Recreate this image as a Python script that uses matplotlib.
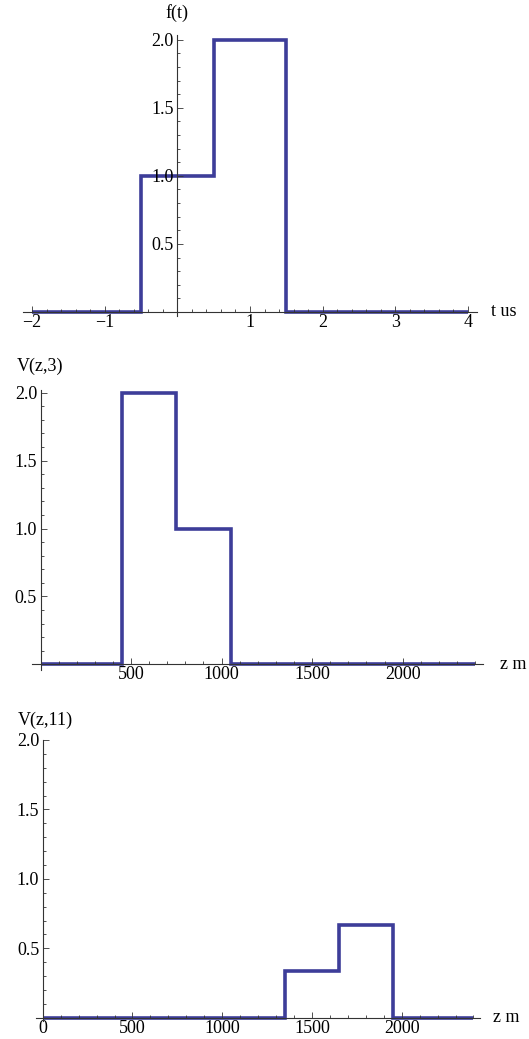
import numpy as np
import matplotlib
matplotlib.use("Agg")
import matplotlib.pyplot as plt
from matplotlib.ticker import FixedLocator, MultipleLocator, FixedFormatter

plt.rcParams['font.family'] = ['Liberation Serif', 'DejaVu Serif']
plt.rcParams['axes.unicode_minus'] = True

# ---- data ----
t_edges = [-2, -0.5, 0.5, 1.5, 4]
f_vals = [0, 1, 2, 0]

z3_edges = [0, 450, 750, 1050, 2400]
v3_vals = [0, 2, 1, 0]

z11_edges = [0, 1350, 1650, 1950, 2400]
v11_vals = [0, 1/3, 2/3, 0]

t_ticks = [-2, -1, 1, 2, 3, 4]
t_ticklabels = ["−2", "−1", "1", "2", "3", "4"]
y_ticks = [0.5, 1.0, 1.5, 2.0]
y_ticklabels = ["0.5", "1.0", "1.5", "2.0"]
z3_ticks = [500, 1000, 1500, 2000]
z3_ticklabels = ["500", "1000", "1500", "2000"]
z11_ticks = [0, 500, 1000, 1500, 2000]
z11_ticklabels = ["0", "500", "1000", "1500", "2000"]

W, H = 529, 1039
DPI = 100
fig = plt.figure(figsize=(W / DPI, H / DPI), dpi=DPI)

LINE_COLOR = (0.24, 0.24, 0.6)
AX_COLOR = '#333333'
FS = 13
LW = 2.6


def make_axes(left, right, top, bottom, xa, xa_px, xb, xb_px, ya, ya_px, yb, yb_px):
    ax = fig.add_axes([left / W, 1 - bottom / H, (right - left) / W, (bottom - top) / H])
    sx = (xb - xa) / (xb_px - xa_px)
    ax.set_xlim(xa + (left - xa_px) * sx, xa + (right - xa_px) * sx)
    sy = (yb - ya) / (ya_px - yb_px)
    ax.set_ylim(ya + (ya_px - bottom) * sy, ya + (ya_px - top) * sy)
    for s in ['top', 'right']:
        ax.spines[s].set_visible(False)
    for s in ['left', 'bottom']:
        ax.spines[s].set_position(('data', 0))
        ax.spines[s].set_color(AX_COLOR)
        ax.spines[s].set_linewidth(0.8)
    ax.tick_params(which='both', direction='in', color=AX_COLOR, width=0.6, labelsize=FS)
    ax.tick_params(which='major', length=4.5)
    ax.tick_params(which='minor', length=2.5)
    ax.tick_params(axis='x', pad=1.5)
    ax.tick_params(axis='y', pad=2.5)
    ax.patch.set_alpha(0)
    return ax


def finish(ax, xt, xtl, xminor):
    ax.xaxis.set_major_locator(FixedLocator(xt))
    ax.xaxis.set_major_formatter(FixedFormatter(xtl))
    ax.xaxis.set_minor_locator(MultipleLocator(xminor))
    ax.yaxis.set_major_locator(FixedLocator(y_ticks))
    ax.yaxis.set_major_formatter(FixedFormatter(y_ticklabels))
    ax.yaxis.set_minor_locator(MultipleLocator(0.1))


# Panel 1
ax1 = make_axes(23, 477, 35, 316, -2, 32, 4, 468, 0, 312, 2, 39.7)
ax1.stairs(f_vals, t_edges, baseline=None, color=LINE_COLOR, lw=LW, joinstyle='miter')
finish(ax1, t_ticks, t_ticklabels, 0.2)
fig.text(177 / W, 1 - 13 / H, "f(t)", fontsize=FS, ha='center', va='center')
fig.text(491 / W, 1 - 312 / H, "t us", fontsize=FS, ha='left', va='center')

# Panel 2
ax2 = make_axes(31.7, 483, 390, 670, 0, 40.5, 2000, 402.7, 0, 664.3, 2, 392.7)
ax2.stairs(v3_vals, z3_edges, baseline=None, color=LINE_COLOR, lw=LW, joinstyle='miter')
finish(ax2, z3_ticks, z3_ticklabels, 100)
fig.text(40 / W, 1 - 366 / H, "V(z,3)", fontsize=FS, ha='center', va='center')
fig.text(500 / W, 1 - 664.3 / H, "z m", fontsize=FS, ha='left', va='center')

# Panel 3
ax3 = make_axes(36, 480, 740, 1021, 0, 42.7, 2000, 401.7, 0, 1017.7, 2, 740)
ax3.stairs(v11_vals, z11_edges, baseline=None, color=LINE_COLOR, lw=LW, joinstyle='miter')
finish(ax3, z11_ticks, z11_ticklabels, 100)
fig.text(45 / W, 1 - 720 / H, "V(z,11)", fontsize=FS, ha='center', va='center')
fig.text(493 / W, 1 - 1017.7 / H, "z m", fontsize=FS, ha='left', va='center')

fig.savefig("out.png", dpi=DPI)
